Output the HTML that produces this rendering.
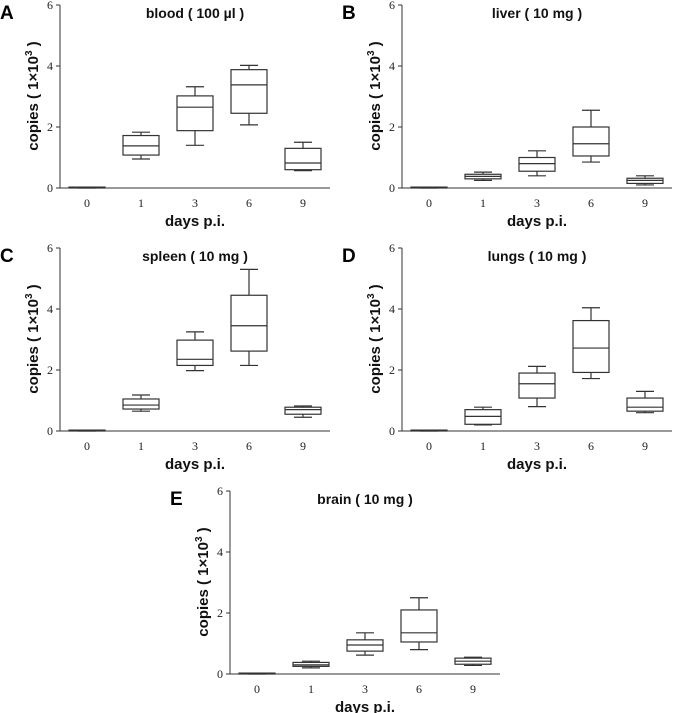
<!DOCTYPE html>
<html><head><meta charset="utf-8"><style>
html,body{margin:0;padding:0;background:#fff;}
svg{display:block;}
.tk{font-family:"Liberation Serif",serif;font-size:12px;fill:#222;}
.tt{font-family:"Liberation Sans",sans-serif;font-size:14px;font-weight:bold;fill:#111;}
.at{font-family:"Liberation Sans",sans-serif;font-size:15px;font-weight:bold;fill:#111;}
.lt{font-family:"Liberation Sans",sans-serif;font-size:19px;font-weight:bold;fill:#000;}
</style></head><body>
<svg id="fig" width="675" height="713" viewBox="0 0 675 713" xmlns="http://www.w3.org/2000/svg"></svg>
<script>
const categories = ["0","1","3","6","9"];
const yTicks = [0,2,4,6];
const titles = ["blood ( 100  \u00b5l )","liver ( 10 mg )","spleen ( 10 mg )","lungs ( 10 mg )","brain ( 10 mg )"];
const letters = ["A","B","C","D","E"];
// [min,q1,median,q3,max] per category
const bloodData = [[0,0,0.02,0.03,0.03],[0.95,1.08,1.38,1.72,1.83],[1.4,1.88,2.65,3.02,3.32],[2.07,2.45,3.38,3.88,4.02],[0.57,0.6,0.82,1.3,1.5]];
const liverData = [[0,0,0.02,0.03,0.03],[0.25,0.3,0.38,0.45,0.52],[0.4,0.55,0.8,1.0,1.22],[0.85,1.05,1.45,2.0,2.55],[0.1,0.15,0.25,0.32,0.4]];
const spleenData = [[0,0,0.02,0.03,0.03],[0.65,0.72,0.85,1.05,1.18],[1.98,2.15,2.35,2.98,3.25],[2.15,2.62,3.45,4.45,5.3],[0.45,0.55,0.7,0.78,0.82]];
const lungsData = [[0,0,0.02,0.03,0.03],[0.2,0.22,0.48,0.7,0.78],[0.8,1.08,1.55,1.9,2.12],[1.72,1.92,2.72,3.62,4.04],[0.6,0.65,0.78,1.08,1.3]];
const brainData = [[0,0,0.02,0.03,0.03],[0.2,0.25,0.3,0.38,0.42],[0.62,0.75,0.95,1.12,1.35],[0.8,1.05,1.35,2.1,2.5],[0.28,0.32,0.42,0.52,0.55]];
const allData = [bloodData,liverData,spleenData,lungsData,brainData];
const offsets = [[0,0],[342,0],[0,243],[342,243],[170,486]];
const NS="http://www.w3.org/2000/svg";
const svg=document.getElementById('fig');
function mk(tag,attrs,parent,txt){const e=document.createElementNS(NS,tag);for(const k in attrs)e.setAttribute(k,attrs[k]);if(txt!==undefined)e.textContent=txt;parent.appendChild(e);return e;}
allData.forEach((data,p)=>{
  const [ox,oy]=offsets[p];
  const g=mk('g',{transform:`translate(${ox},${oy})`},svg);
  
  
  const x0=60,y0=188,yTop=5,xEnd=330;
  const ys=v=>y0-(v/6)*(y0-yTop);
  const xs=i=>87+i*54;
  const l=mk('text',{x:0,y:19,class:'lt'},g,letters[p]);
  
  const t=mk('text',{x:195,y:18,class:'tt','text-anchor':'middle'},g,titles[p]);
  
  const ya=mk('line',{x1:x0,y1:yTop,x2:x0,y2:y0,stroke:'#333','stroke-width':1},g);
  
  const xa=mk('line',{x1:x0,y1:y0,x2:xEnd,y2:y0,stroke:'#333','stroke-width':1},g);
  
  yTicks.forEach(v=>{
    mk('line',{x1:x0-4,y1:ys(v),x2:x0,y2:ys(v),stroke:'#333'},g);
    const tl=mk('text',{x:x0-7,y:ys(v)+4,class:'tk','text-anchor':'end'},g,String(v));
    
  });
  categories.forEach((c,i)=>{
    const tl=mk('text',{x:xs(i),y:207,class:'tk','text-anchor':'middle'},g,c);
    
    const d=data[i],w=36,cx=xs(i);
    const bg=mk('g',{},g);
    
    const st={stroke:'#333','stroke-width':1.2,fill:'none'};
    mk('line',Object.assign({x1:cx,y1:ys(d[0]),x2:cx,y2:ys(d[1])},st),bg);
    mk('line',Object.assign({x1:cx,y1:ys(d[3]),x2:cx,y2:ys(d[4])},st),bg);
    mk('line',Object.assign({x1:cx-w/4,y1:ys(d[0]),x2:cx+w/4,y2:ys(d[0])},st),bg);
    mk('line',Object.assign({x1:cx-w/4,y1:ys(d[4]),x2:cx+w/4,y2:ys(d[4])},st),bg);
    mk('rect',Object.assign({x:cx-w/2,y:ys(d[3]),width:w,height:Math.max(ys(d[1])-ys(d[3]),0.5)},st),bg);
    mk('line',Object.assign({x1:cx-w/2,y1:ys(d[2]),x2:cx+w/2,y2:ys(d[2])},st),bg);
  });
  const xt=mk('text',{x:195,y:226,class:'at','text-anchor':'middle'},g,'days p.i.');
  
  const yt=mk('text',{x:0,y:0,class:'at','text-anchor':'middle',transform:'translate(38,96) rotate(-90)'},g);
  
  yt.innerHTML='copies ( 1\u00d710<tspan dy="-6" font-size="10">3</tspan><tspan dy="6"> )</tspan>';
});
</script>
</body></html>
